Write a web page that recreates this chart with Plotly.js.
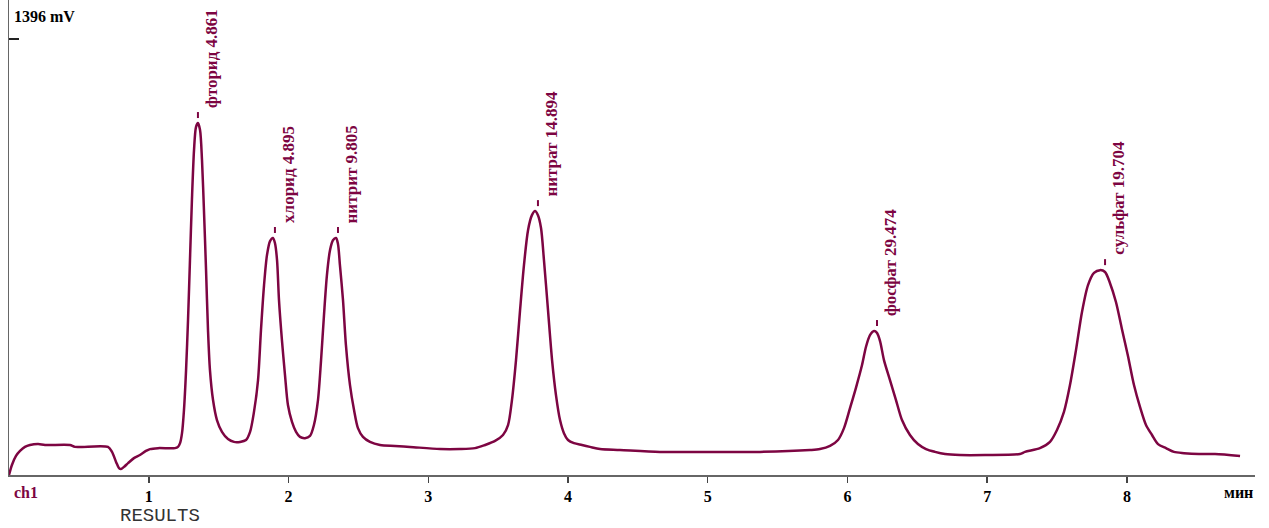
<!DOCTYPE html>
<html>
<head>
<meta charset="utf-8">
<script src="https://cdn.plot.ly/plotly-3.0.1.min.js"></script>
<style>html,body{margin:0;padding:0;background:#fff;}#chart{width:1269px;height:528px;}</style>
</head>
<body>
<div id="chart"></div>
<script>
// Chromatogram signal (time in min, signal in mV)
const timeMin = [0.000,0.021,0.050,0.079,0.114,0.150,0.208,0.258,0.436,0.472,0.708,0.737,0.766,0.787,0.801,0.823,0.852,0.894,0.937,0.980,1.009,1.066,1.188,1.209,1.224,1.238,1.252,1.267,1.281,1.295,1.309,1.324,1.338,1.352,1.367,1.381,1.395,1.410,1.424,1.438,1.460,1.488,1.524,1.567,1.610,1.653,1.696,1.725,1.753,1.782,1.803,1.825,1.846,1.868,1.889,1.903,1.918,1.932,1.953,1.975,1.996,2.025,2.054,2.082,2.118,2.154,2.182,2.211,2.233,2.254,2.275,2.297,2.318,2.340,2.354,2.368,2.390,2.411,2.440,2.469,2.497,2.533,2.583,2.655,2.762,2.869,3.084,3.227,3.335,3.406,3.478,3.535,3.571,3.599,3.628,3.657,3.685,3.714,3.742,3.764,3.785,3.807,3.828,3.857,3.886,3.914,3.943,3.971,4.000,4.043,4.100,4.157,4.229,4.372,4.658,4.980,5.374,5.732,5.803,5.875,5.932,5.975,6.018,6.061,6.104,6.132,6.161,6.190,6.211,6.233,6.261,6.304,6.347,6.390,6.447,6.504,6.562,6.626,6.698,6.805,6.984,7.234,7.270,7.377,7.449,7.499,7.549,7.592,7.635,7.678,7.721,7.764,7.807,7.843,7.878,7.921,7.964,8.007,8.050,8.093,8.136,8.179,8.222,8.279,8.336,8.408,8.515,8.630,8.809,8.902,8.916];
const signalMv = [0,32,61,77,90,96,99,96,96,90,90,74,42,22,19,26,38,54,64,77,83,86,86,90,102,134,208,336,496,688,881,1041,1114,1127,1105,1009,848,656,464,336,240,176,138,115,106,106,112,138,202,304,464,608,704,749,759,743,688,560,432,320,224,170,138,122,118,125,160,240,368,512,640,720,752,759,740,672,560,416,288,208,150,122,106,96,93,90,83,83,86,96,109,128,160,240,368,528,672,784,832,845,832,791,688,528,368,256,176,134,112,102,96,90,83,80,74,74,74,80,83,93,112,150,214,280,352,410,448,461,455,429,368,304,240,176,128,99,83,74,67,64,64,67,74,86,106,144,202,288,400,522,608,647,656,650,615,554,467,381,288,218,160,128,99,86,74,70,67,67,61];

// Peak identification: names, concentration values, apex positions
const peakNames  = ["фторид","хлорид","нитрит","нитрат","фосфат","сульфат"];
const peakValues = ["4.861","4.895","9.805","14.894","29.474","19.704"];
const peakTime   = [1.352,1.903,2.354,3.785,6.211,7.843];
const peakHeight = [1127,759,759,845,461,656];

// Axis ticks
const xTicks = [1,2,3,4,5,6,7,8];
const yTickVal = 1396;
const yUnit = "mV";

const lineColor = '#7d0542';
const serif = '"Liberation Serif","Times New Roman",serif';

const traces = [{
  x: timeMin, y: signalMv, type: 'scatter', mode: 'lines',
  line: {color: lineColor, width: 2.5, shape: 'spline', smoothing: 0.8},
  hoverinfo: 'skip'
}];

const annotations = peakNames.map((n, i) => ({
  x: peakTime[i], y: peakHeight[i], xref: 'x', yref: 'y',
  text: '<b>' + n + ' ' + peakValues[i] + '</b>', showarrow: false, textangle: -90,
  xanchor: 'left', yanchor: 'bottom', xshift: 2, yshift: 13,
  font: {family: serif, size: 17, color: lineColor}
}));

const shapes = peakNames.map((n, i) => ({
  type: 'line', xref: 'x', yref: 'y', xsizemode: 'scaled', ysizemode: 'pixel',
  yanchor: peakHeight[i], x0: peakTime[i], x1: peakTime[i], y0: 5, y1: 11,
  line: {color: lineColor, width: 2}
}));

annotations.push(
  {xref: 'paper', yref: 'y', x: 0, y: yTickVal, xanchor: 'left', yanchor: 'bottom', xshift: 3, yshift: 12,
   text: '<b>' + yTickVal + ' ' + yUnit + '</b>', showarrow: false, font: {family: serif, size: 16, color: '#000'}},
  {xref: 'paper', yref: 'paper', x: 0, y: 0, xanchor: 'left', yanchor: 'top', xshift: 3, yshift: -7,
   text: '<b>ch1</b>', showarrow: false, font: {family: serif, size: 16, color: lineColor}},
  {xref: 'paper', yref: 'paper', x: 1, y: 0, xanchor: 'right', yanchor: 'top', xshift: 0, yshift: -7,
   text: '<b>мин</b>', showarrow: false, font: {family: serif, size: 16, color: '#000'}},
  {xref: 'paper', yref: 'paper', x: 0.121, y: 0, xanchor: 'center', yanchor: 'bottom', yshift: -53,
   text: 'RESULTS', showarrow: false, borderpad: 0,
   font: {family: '"Liberation Mono","Courier New",monospace', size: 19, color: '#333'}}
);

const layout = {
  width: 1269, height: 528,
  margin: {l: 9, r: 14, t: 0, b: 53, pad: 0},
  paper_bgcolor: '#fff', plot_bgcolor: '#fff',
  showlegend: false,
  xaxis: {
    range: [0, 8.916], showgrid: false, zeroline: false,
    showline: true, linecolor: '#666', linewidth: 1.5,
    ticks: 'outside', ticklen: 6, tickwidth: 1.5, tickcolor: '#444',
    tickvals: xTicks, ticktext: xTicks.map(v => '<b>' + v + '</b>'),
    tickfont: {family: serif, size: 16, color: '#000'}
  },
  yaxis: {
    range: [0, 1521], showgrid: false, zeroline: false,
    showline: true, linecolor: '#666', linewidth: 1.5,
    ticks: 'inside', ticklen: 10, tickwidth: 1.5, tickcolor: '#222',
    tickvals: [yTickVal], showticklabels: false
  },
  annotations: annotations,
  shapes: shapes
};

Plotly.newPlot('chart', traces, layout, {staticPlot: true, displayModeBar: false});
</script>
</body>
</html>
